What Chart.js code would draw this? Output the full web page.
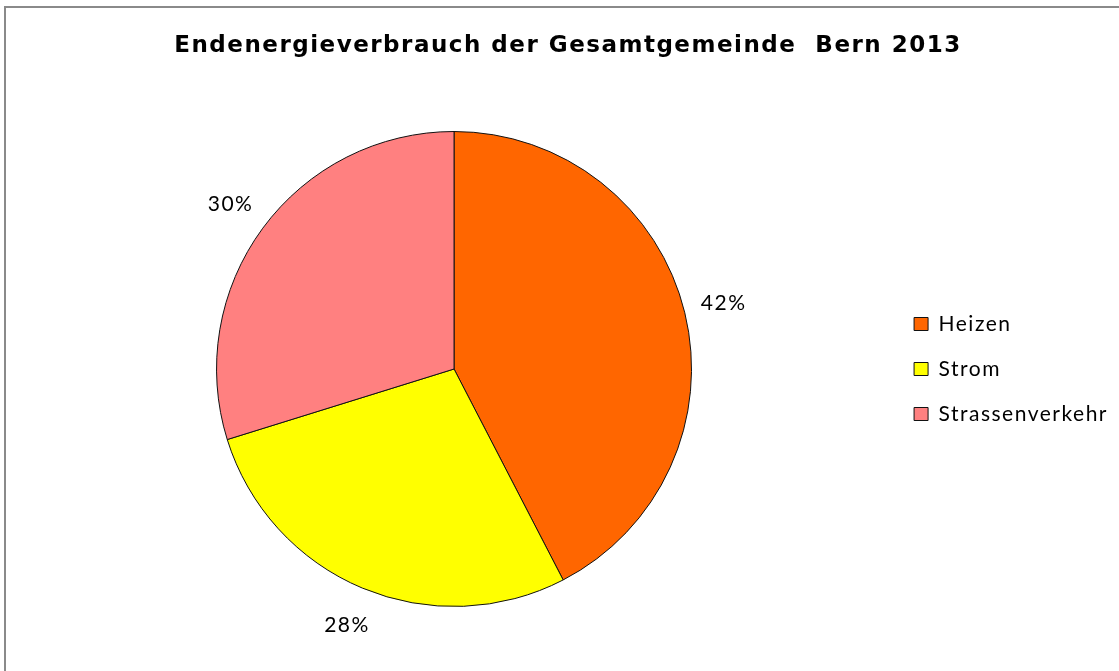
<!DOCTYPE html>
<html>
<head>
<meta charset="utf-8">
<title>Endenergieverbrauch Bern 2013</title>
<script src="https://cdn.jsdelivr.net/npm/chart.js@4"></script>
<style>
  html, body { margin: 0; padding: 0; background: #fff; overflow: hidden; }
  #frame {
    position: absolute; left: 4px; top: 6px; width: 1200px; height: 800px;
    border-left: 2px solid #8a8a8a; border-top: 2px solid #8a8a8a;
  }
  #chart { position: absolute; left: 0; top: 0; }
</style>
</head>
<body>
<div id="frame"></div>
<canvas id="chart" width="1119" height="671"></canvas>
<script>
// Endenergieverbrauch der Gesamtgemeinde Bern 2013 — pie chart
const categories = ['Heizen', 'Strom', 'Strassenverkehr'];
const shares = [42.4, 27.8, 29.8];   // labels round to 42/28/30
const sliceColors = ['#ff6600', '#ffff00', '#ff8080'];

const LABEL_FONT = 'Lato';
const SPACING = '1.5px';   // reference text is drawn horizontally stretched

// Excel-style text looks wider, so add a little letter spacing to all canvas text
const letterSpacing = {
    id: 'letterSpacing',
    beforeLayout: chart => { chart.ctx.letterSpacing = SPACING; },
    beforeDraw: chart => { chart.ctx.letterSpacing = SPACING; }
};

// ── Percent labels outside each slice ────────────────────────
const outsideLabels = {
    id: 'outsideLabels',
    afterDatasetsDraw(chart) {
        const ctx = chart.ctx;
        const values = chart.data.datasets[0].data;
        const total = values.reduce((a, b) => a + b, 0);
        const arcs = chart.getDatasetMeta(0).data;
        ctx.save();
        ctx.font = `21px ${LABEL_FONT}`;
        ctx.fillStyle = '#000';
        ctx.textAlign = 'center';
        ctx.textBaseline = 'middle';
        arcs.forEach((arc, i) => {
            const { x, y, startAngle, endAngle, outerRadius } =
                arc.getProps(['x', 'y', 'startAngle', 'endAngle', 'outerRadius'], true);
            const mid = (startAngle + endAngle) / 2;
            const r = outerRadius + 40;
            const pct = Math.round(values[i] / total * 100) + '%';
            ctx.fillText(pct, x + Math.cos(mid) * r, y + Math.sin(mid) * r);
        });
        ctx.restore();
    }
};

new Chart(document.getElementById('chart'), {
    type: 'pie',
    data: {
        labels: categories,
        datasets: [{
            data: shares,
            backgroundColor: sliceColors,
            borderColor: '#111',
            borderWidth: 1,
        }]
    },
    options: {
        responsive: false,
        animation: false,
        layout: { padding: { left: 18, right: 1, top: 0, bottom: 64 } },
        plugins: {
            title: {
                display: true,
                text: 'Endenergieverbrauch der Gesamtgemeinde  Bern 2013',
                color: '#000',
                font: { family: 'DejaVu Sans', size: 23, weight: 'bold' },
                padding: { top: 32, bottom: 71.4 }
            },
            legend: {
                position: 'right',
                align: 'center',
                fullSize: false,
                labels: {
                    color: '#000',
                    font: { family: LABEL_FONT, size: 21 },
                    boxWidth: 14,
                    boxHeight: 13,
                    padding: 24
                }
            },
            tooltip: { enabled: false }
        }
    },
    plugins: [letterSpacing, outsideLabels]
});
</script>
</body>
</html>
